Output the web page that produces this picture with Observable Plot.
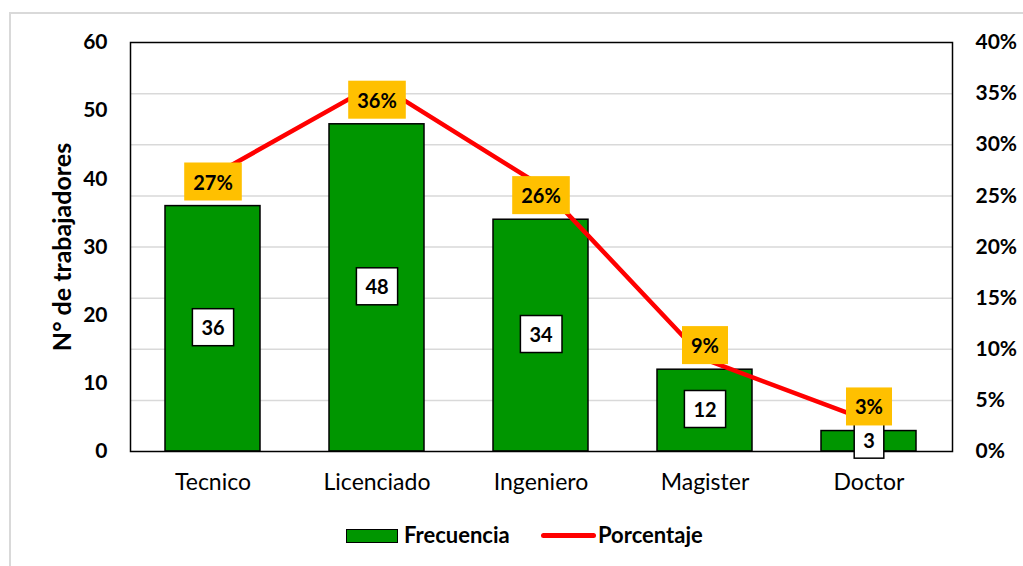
<!DOCTYPE html>
<html>
<head>
<meta charset="utf-8">
<script src="https://cdn.jsdelivr.net/npm/d3@7"></script>
<script src="https://cdn.jsdelivr.net/npm/@observablehq/plot@0.6"></script>
<style>
  html, body { margin: 0; padding: 0; background: #fff; }
  #wrap { position: relative; width: 1023px; height: 566px; overflow: hidden; font-family: Lato, "Open Sans", sans-serif; }
  #frame { position: absolute; left: 9px; top: 12px; width: 1030px; height: 600px; border: 2px solid #d9d9d9; box-sizing: border-box; }
  #chart { position: absolute; left: 0; top: 0; }
  #legend { position: absolute; top: 521px; left: 0; width: 1023px; height: 28px; font-weight: bold; font-size: 22px; color: #000; }
  .sw { position: absolute; }
</style>
</head>
<body>
<div id="wrap">
  <div id="frame"></div>
  <div id="chart"></div>
  <div id="legend">
    <div class="sw" style="left:346px; top:8px; width:50px; height:12px; background:#009600; border:1.5px solid #000;"></div>
    <div class="sw" style="left:404px; top:0px;">Frecuencia</div>
    <div class="sw" style="left:541px; top:12px; width:55px; height:5px; background:#ff0000; border-radius:3px;"></div>
    <div class="sw" style="left:598px; top:0px;">Porcentaje</div>
  </div>
</div>
<script>
const categorias = ["Tecnico", "Licenciado", "Ingeniero", "Magister", "Doctor"];
const frecuencia = [36, 48, 34, 12, 3];
const porcentaje = [27, 36, 26, 9, 3];
const ticksIzq = [0, 10, 20, 30, 40, 50, 60];
const ticksDer = [0, 5, 10, 15, 20, 25, 30, 35, 40];
const tituloY = "N° de trabajadores";

const k = 60 / 40; // secondary axis (0-40%) mapped on primary (0-60)
const data = categorias.map((c, i) => ({cat: c, freq: frecuencia[i], pct: porcentaje[i]}));

const chart = Plot.plot({
  width: 1023,
  height: 566,
  marginTop: 42,
  marginBottom: 115,
  marginLeft: 130,
  marginRight: 71,
  style: {fontFamily: "Lato, 'Open Sans', sans-serif", fontSize: "21px", fontWeight: "bold", color: "#000", background: "transparent"},
  x: {domain: categorias, paddingInner: 0.42, paddingOuter: 0.21},
  y: {domain: [0, 60]},
  marks: [
    Plot.ruleY(ticksDer.filter(p => p > 0 && p < 40).map(p => p * k), {stroke: "#d9d9d9", strokeWidth: 1.5}),
    Plot.barY(data, {x: "cat", y: "freq", fill: "#009600", stroke: "#000", strokeWidth: 1.5}),
    Plot.frame({stroke: "#000", strokeWidth: 1.5}),
    Plot.axisY(ticksIzq, {anchor: "left", tickSize: 0, tickPadding: 23, label: null, fontSize: 21}),
    Plot.axisY(ticksDer.map(p => p * k), {anchor: "right", tickSize: 0, tickPadding: 23, label: null, fontSize: 21, tickFormat: d => Math.round(d / k) + "%"}),
    Plot.axisX({tickSize: 0, tickPadding: 22, label: null, fontSize: 23, fontWeight: "normal"}),
    Plot.line(data, {x: "cat", y: d => d.pct * k, stroke: "#ff0000", strokeWidth: 4.5}),
    Plot.text(data, {x: "cat", y: d => d.freq / 2, text: d => String(d.freq), fontSize: 20, fontWeight: "bold", fill: "#000"}),
    Plot.text(data, {x: "cat", y: "freq", dy: -23, text: d => d.pct + "%", fontSize: 20, fontWeight: "bold", fill: "#000"}),
    Plot.text([tituloY], {frameAnchor: "left", dx: -68, rotate: -90, textAnchor: "middle", fontSize: 25, fontWeight: "bold", fill: "#000"})
  ]
});
document.getElementById("chart").appendChild(chart);

function findTexts(strings) {
  for (const g of chart.querySelectorAll("g")) {
    const ts = Array.from(g.children).filter(c => c.tagName.toLowerCase() === "text");
    if (ts.length === strings.length && ts.every((t, i) => t.textContent === strings[i])) return ts;
  }
  return [];
}
function boxes(strings, fill, stroke, padX, h) {
  findTexts(strings).forEach(t => {
    const bb = t.getBBox();
    const r = document.createElementNS("http://www.w3.org/2000/svg", "rect");
    r.setAttribute("x", bb.x - padX);
    r.setAttribute("y", bb.y + bb.height / 2 - h / 2);
    r.setAttribute("width", bb.width + 2 * padX);
    r.setAttribute("height", h);
    r.setAttribute("fill", fill);
    if (stroke) { r.setAttribute("stroke", stroke); r.setAttribute("stroke-width", 1.5); }
    if (t.getAttribute("transform")) r.setAttribute("transform", t.getAttribute("transform"));
    t.parentNode.insertBefore(r, t);
  });
}
boxes(frecuencia.map(String), "#ffffff", "#000", 9, 37);
boxes(porcentaje.map(p => p + "%"), "#ffc000", null, 9, 38);
</script>
</body>
</html>
